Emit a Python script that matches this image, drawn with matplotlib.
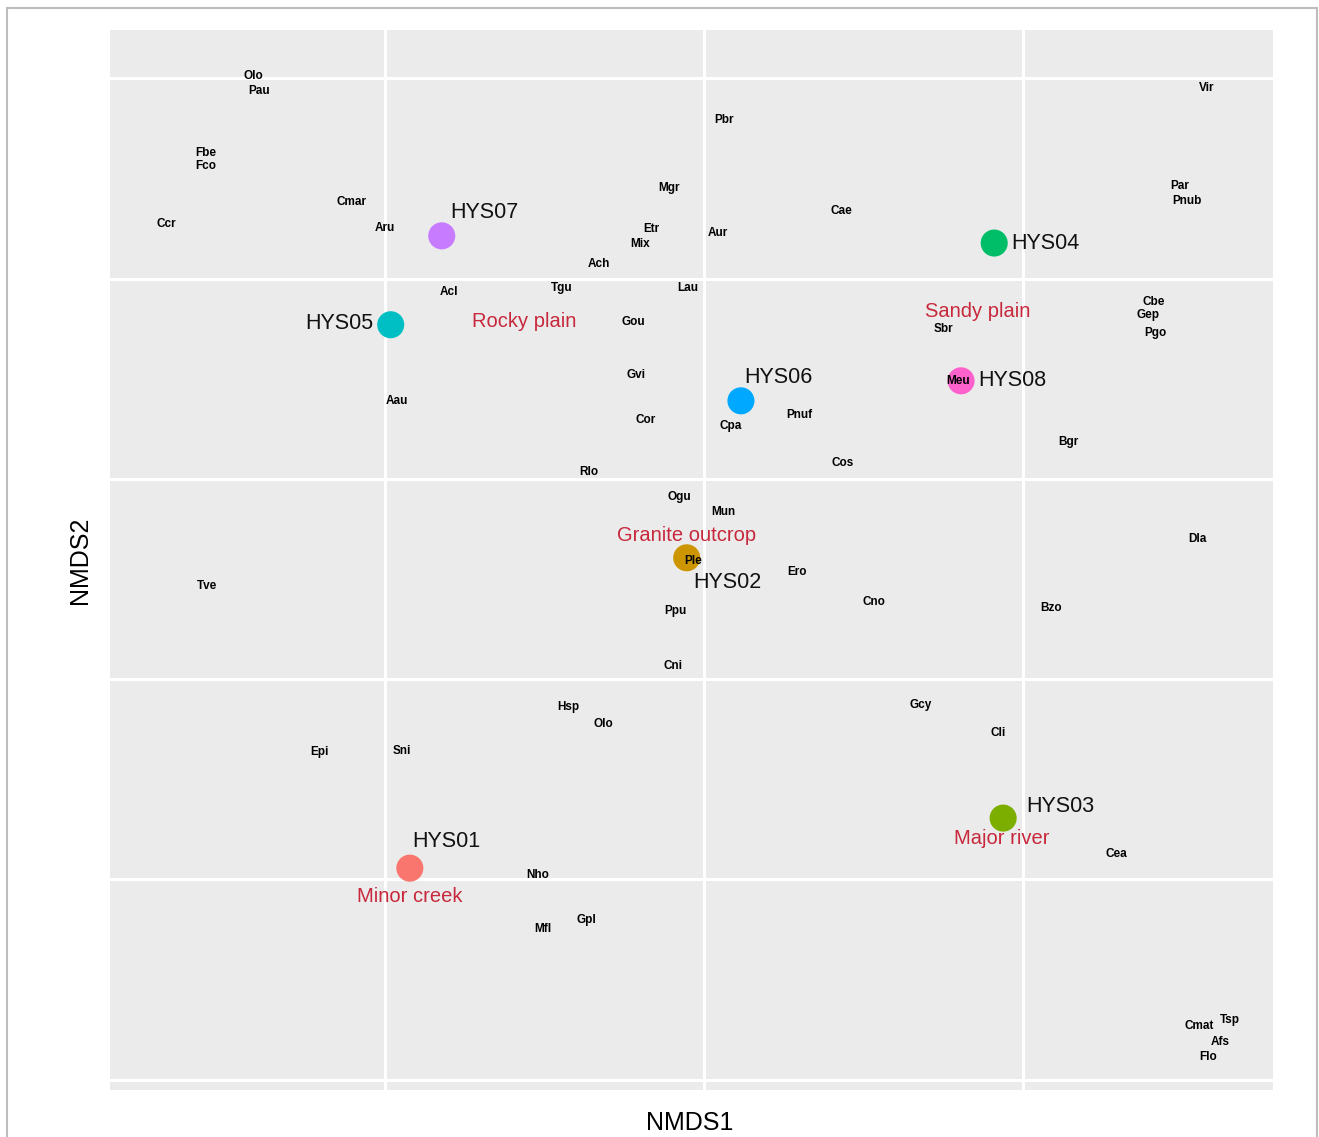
#!/usr/bin/env python3
import matplotlib
matplotlib.use("Agg")
import matplotlib.pyplot as plt
from matplotlib.patches import Rectangle

plt.rcParams["font.family"] = ["Liberation Sans", "DejaVu Sans"]

# site scores (NMDS1, NMDS2)
sites = ["HYS01", "HYS02", "HYS03", "HYS04", "HYS05", "HYS06", "HYS07", "HYS08"]
site_x = [-0.461, -0.027, 0.469, 0.455, -0.491, 0.058, -0.411, 0.403]
site_y = [-0.972, -0.197, -0.847, 0.589, 0.385, 0.195, 0.607, 0.245]

# habitat labels
habitats = ["Minor creek", "Granite outcrop", "Major river", "Sandy plain", "Rocky plain"]
habitat_x = [-0.461, -0.027, 0.467, 0.429, -0.281]
habitat_y = [-1.044, -0.142, -0.897, 0.417, 0.392]

# species scores
species = ["Olo", "Pau", "Fbe", "Fco", "Ccr", "Cmar", "Aru", "Acl", "Tgu", "Ach",
           "Mix", "Etr", "Mgr", "Pbr", "Aur", "Lau", "Cae", "Vir", "Par", "Pnub",
           "Cbe", "Gep", "Pgo", "Sbr", "Meu", "Bgr", "Gou", "Gvi", "Cor", "Cpa",
           "Pnuf", "Cos", "Rlo", "Ogu", "Mun", "Ple", "Ero", "Cno", "Bzo", "Dla",
           "Ppu", "Cni", "Tve", "Aau", "Hsp", "Olo", "Epi", "Sni", "Gcy", "Cli",
           "Cea", "Nho", "Gpl", "Mfl", "Cmat", "Tsp", "Afs", "Flo"]
species_x = [-0.707, -0.697, -0.781, -0.781, -0.843, -0.553, -0.500, -0.400, -0.223, -0.165,
             -0.100, -0.083, -0.055, 0.031, 0.022, -0.025, 0.215, 0.788, 0.746, 0.757,
             0.705, 0.696, 0.707, 0.376, 0.398, 0.571, -0.111, -0.107, -0.091, 0.042,
             0.150, 0.218, -0.180, -0.039, 0.031, -0.017, 0.146, 0.266, 0.544, 0.773,
             -0.044, -0.049, -0.779, -0.481, -0.213, -0.157, -0.603, -0.473, 0.340, 0.461,
             0.646, -0.260, -0.185, -0.252, 0.777, 0.824, 0.809, 0.790]
species_y = [1.006, 0.969, 0.814, 0.782, 0.637, 0.692, 0.627, 0.467, 0.477, 0.537,
             0.587, 0.624, 0.727, 0.897, 0.614, 0.477, 0.669, 0.977, 0.732, 0.694,
             0.442, 0.410, 0.365, 0.375, 0.245, 0.092, 0.392, 0.260, 0.147, 0.132,
             0.160, 0.040, 0.017, -0.045, -0.082, -0.205, -0.232, -0.307, -0.322, -0.150,
             -0.330, -0.467, -0.267, 0.195, -0.569, -0.612, -0.682, -0.679, -0.564, -0.634,
             -0.937, -0.989, -1.101, -1.124, -1.366, -1.351, -1.406, -1.444]

site_colors = ["#F8766D", "#CD9600", "#7CAE00", "#00BE67",
               "#00BFC4", "#00A9FF", "#C77CFF", "#FF61CC"]
# label offsets in points, relative to each site
site_offsets = [(26, 19), (29, -18), (41, 8), (37, 0),
                (-37, 1), (27, 17), (31, 17), (37, 0)]

fig = plt.figure(figsize=(13.19, 11.37), dpi=100)
ax = fig.add_axes([110 / 1319, 1 - 1090 / 1137, 1163 / 1319, 1060 / 1137])
ax.set_facecolor("#EBEBEB")
ax.set_xlim(-0.931, 0.892)
ax.set_ylim(-1.526, 1.121)
ax.set_xticks([-0.5, 0.0, 0.5])
ax.set_yticks([-1.5, -1.0, -0.5, 0.0, 0.5, 1.0])
ax.grid(True, color="white", linewidth=2.2)
ax.set_axisbelow(True)
ax.tick_params(length=0, labelbottom=False, labelleft=False)
for spine in ax.spines.values():
    spine.set_visible(False)

ax.scatter(site_x, site_y, s=380, c=site_colors, zorder=3, linewidths=0)
for name, x, y, off in zip(sites, site_x, site_y, site_offsets):
    ax.annotate(name, (x, y), xytext=off, textcoords="offset points",
                ha="center", va="center", fontsize=15.5, color="#111111", zorder=4)

for name, x, y in zip(habitats, habitat_x, habitat_y):
    ax.text(x, y, name, ha="center", va="center", fontsize=14.5,
            color="#C8283C", zorder=4)

for name, x, y in zip(species, species_x, species_y):
    ax.text(x, y, name, ha="center", va="center", fontsize=8.5,
            fontweight="bold", color="black", zorder=5)

fig.text(690 / 1319, 1 - 1123 / 1137, "NMDS1", ha="center", va="center", fontsize=18)
fig.text(80 / 1319, 1 - 560 / 1137, "NMDS2", ha="center", va="center",
         fontsize=18, rotation=90)

# thin frame around the whole figure
fig.patches.append(Rectangle((7 / 1319, -0.02), 1310 / 1319, 1 - 8 / 1137 + 0.02,
                             transform=fig.transFigure, fill=False,
                             edgecolor="#BDBDBD", linewidth=1.5))

fig.savefig("out.png", dpi=100)
